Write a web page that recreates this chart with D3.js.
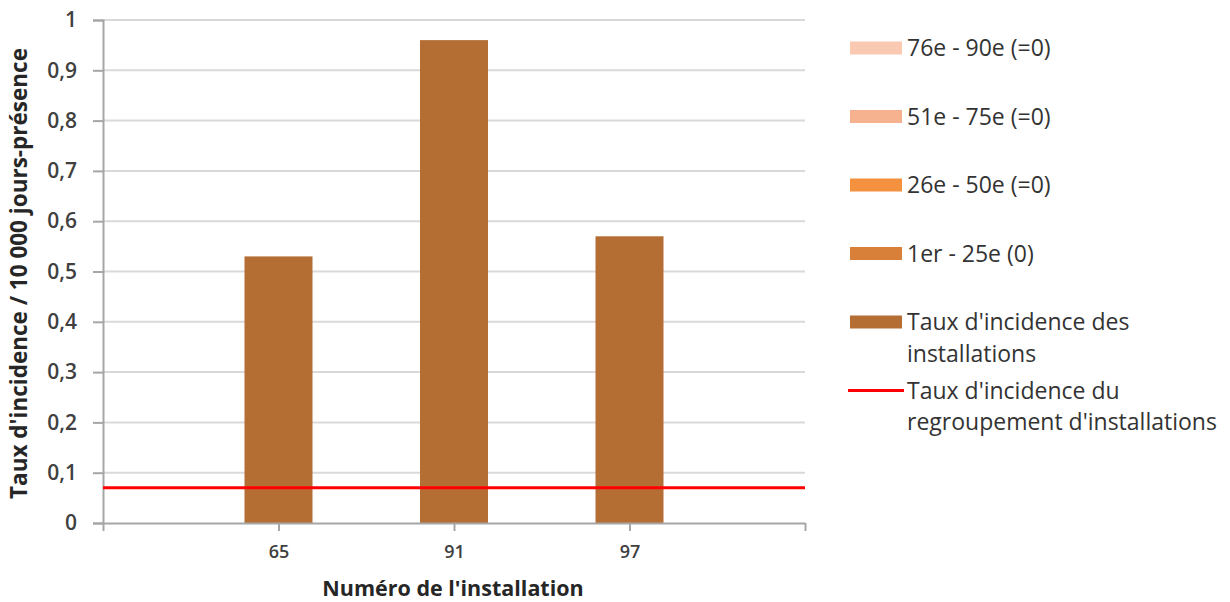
<!DOCTYPE html>
<html>
<head>
<meta charset="utf-8">
<script src="https://cdn.jsdelivr.net/npm/d3@7"></script>
<style>
  body { margin: 0; background: #fff; }
  svg { display: block; font-family: "Open Sans", sans-serif; }
</style>
</head>
<body>
<svg id="chart" width="1230" height="602"></svg>
<script>
// installations shown on the x axis
const categories = ["65", "91", "97"];
// incidence rate per installation (per 10 000 presence days)
const rates = [0.53, 0.96, 0.57];
// incidence rate of the whole group
const groupRate = 0.07;
const yTicks = [0, 0.1, 0.2, 0.3, 0.4, 0.5, 0.6, 0.7, 0.8, 0.9, 1];

const legendItems = [
  { label: ["76e - 90e (=0)"], color: "#f9cab1", type: "rect" },
  { label: ["51e - 75e (=0)"], color: "#f6b18f", type: "rect" },
  { label: ["26e - 50e (=0)"], color: "#f4913f", type: "rect" },
  { label: ["1er - 25e (0)"], color: "#d8803a", type: "rect" },
  { label: ["Taux d'incidence des", "installations"], color: "#b46e34", type: "rect" },
  { label: ["Taux d'incidence du", "regroupement d'installations"], color: "#ff0000", type: "line" }
];

const svg = d3.select("#chart");
const mLeft = 103, mRight = 805, mTop = 20, mBottom = 523;

// blank slots at both ends so the bars sit on the inner tick marks
const slots = ["_a", ...categories, "_b"];
const x = d3.scalePoint().domain(slots).range([mLeft, mRight]);
const y = d3.scaleLinear().domain([0, 1]).range([mBottom, mTop]);
const fmt = v => String(v).replace(".", ",");

// gridlines
svg.append("g")
  .selectAll("line")
  .data(yTicks.slice(1))
  .join("line")
  .attr("x1", mLeft).attr("x2", mRight)
  .attr("y1", d => y(d)).attr("y2", d => y(d))
  .attr("stroke", "#d9d9d9").attr("stroke-width", 2);

// y axis
const yAxis = svg.append("g")
  .attr("transform", `translate(${mLeft},0)`)
  .call(d3.axisLeft(y).tickValues(yTicks).tickFormat(fmt).tickSize(10).tickPadding(16));
yAxis.select(".domain").attr("stroke", "#a6a6a6").attr("stroke-width", 2);
yAxis.selectAll(".tick line").attr("stroke", "#a6a6a6").attr("stroke-width", 2);
yAxis.selectAll("text").attr("font-size", 21).attr("fill", "#404040")
  .attr("font-family", "Open Sans").attr("font-weight", 600);

// bars
const barW = 68;
svg.append("g")
  .selectAll("rect")
  .data(rates)
  .join("rect")
  .attr("x", (d, i) => x(categories[i]) - barW / 2)
  .attr("y", d => y(d))
  .attr("width", barW)
  .attr("height", d => y(0) - y(d))
  .attr("fill", "#b46e34");

// x axis
const xAxis = svg.append("g")
  .attr("transform", `translate(0,${mBottom})`)
  .call(d3.axisBottom(x).tickFormat(d => d.startsWith("_") ? "" : d).tickSize(8).tickSizeOuter(0).tickPadding(14));
xAxis.select(".domain").attr("stroke", "#a6a6a6").attr("stroke-width", 2);
xAxis.selectAll(".tick line").attr("stroke", "#a6a6a6").attr("stroke-width", 2);
xAxis.selectAll("text").attr("font-size", 18).attr("fill", "#404040")
  .attr("font-family", "Open Sans").attr("font-weight", 600);

// group rate line
svg.append("line")
  .attr("x1", mLeft).attr("x2", mRight)
  .attr("y1", y(groupRate)).attr("y2", y(groupRate))
  .attr("stroke", "#ff0000").attr("stroke-width", 3);

// axis titles
svg.append("text")
  .attr("transform", `translate(27,${(mTop + mBottom) / 2 + 2}) rotate(-90)`)
  .attr("text-anchor", "middle")
  .attr("font-size", 22.5).attr("font-weight", 700).attr("fill", "#262626")
  .text("Taux d'incidence / 10 000 jours-présence");

svg.append("text")
  .attr("x", 453).attr("y", 596)
  .attr("text-anchor", "middle")
  .attr("font-size", 21.5).attr("font-weight", 700).attr("fill", "#262626")
  .text("Numéro de l'installation");

// legend
const lg = svg.append("g").attr("transform", "translate(850,48)");
const item = lg.selectAll("g")
  .data(legendItems)
  .join("g")
  .attr("transform", (d, i) => `translate(0,${i * 68.5})`);

item.filter(d => d.type === "rect").append("rect")
  .attr("x", 0).attr("y", -6.5).attr("width", 52).attr("height", 13)
  .attr("fill", d => d.color);
item.filter(d => d.type === "line").append("line")
  .attr("x1", -2).attr("x2", 54).attr("y1", 0).attr("y2", 0)
  .attr("stroke", d => d.color).attr("stroke-width", 3);

item.append("text")
  .attr("x", 57)
  .attr("font-size", 23).attr("fill", "#333")
  .selectAll("tspan")
  .data(d => d.label)
  .join("tspan")
  .attr("x", 57)
  .attr("y", (d, i) => i * 31.5)
  .attr("dy", "0.35em")
  .text(d => d);
</script>
</body>
</html>
